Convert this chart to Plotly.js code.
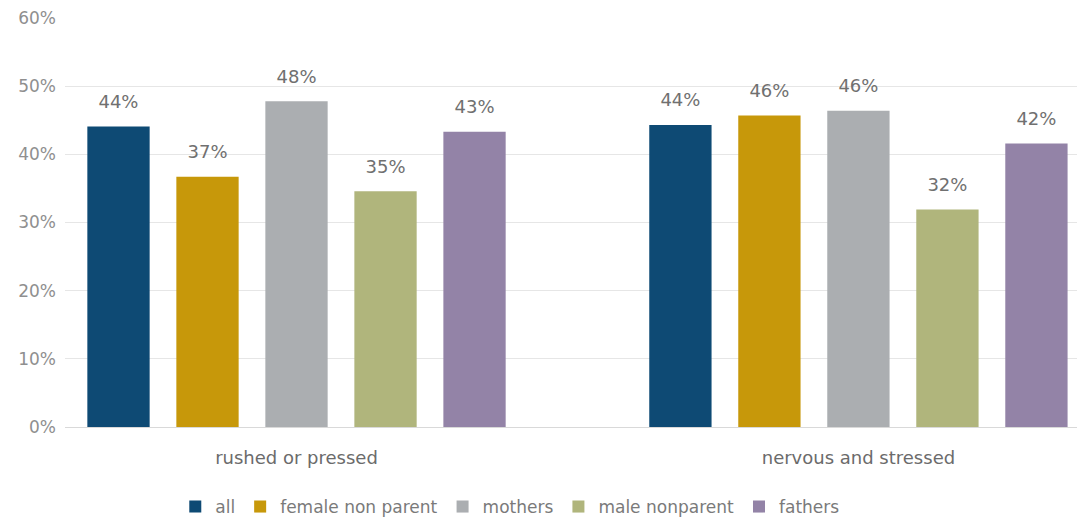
<!DOCTYPE html>
<html>
<head>
<meta charset="utf-8">
<script src="https://cdn.plot.ly/plotly-3.0.1.min.js"></script>
<style>html,body{margin:0;padding:0;background:#fff;}#chart{width:1084px;height:520px;}</style>
</head>
<body>
<div id="chart"></div>
<script>
var categories = ["rushed or pressed", "nervous and stressed"];
var seriesNames = ["all", "female non parent", "mothers", "male nonparent", "fathers"];
var allVals = [44.1, 44.3];
var femaleNonParentVals = [36.7, 45.7];
var mothersVals = [47.8, 46.4];
var maleNonparentVals = [34.6, 31.9];
var fathersVals = [43.3, 41.6];
var seriesColors = ["#0e4a74", "#c7980a", "#abaeb1", "#b0b57c", "#9383a7"];
var yTickVals = [0, 10, 20, 30, 40, 50, 60];
var yTickText = ["0%", "10%", "20%", "30%", "40%", "50%", "60%"];

var FONT = "DejaVu Sans, Verdana, sans-serif";
var seriesValues = [allVals, femaleNonParentVals, mothersVals, maleNonparentVals, fathersVals];
var traces = [];
seriesValues.forEach(function (vals, i) {
  traces.push({
    type: "bar",
    name: seriesNames[i],
    x: categories,
    y: vals,
    offsetgroup: "g" + i,
    marker: { color: seriesColors[i] },
    hoverinfo: "skip"
  });
});
seriesValues.forEach(function (vals, i) {
  traces.push({
    type: "scatter",
    mode: "markers+text",
    x: categories,
    y: vals,
    offsetgroup: "g" + i,
    orientation: "v",
    showlegend: false,
    marker: { size: 21, opacity: 0, color: seriesColors[i] },
    text: vals.map(function (v) { return Math.round(v) + "%"; }),
    textposition: "top center",
    textfont: { family: FONT, size: 18, color: "#707070" },
    cliponaxis: false,
    hoverinfo: "skip"
  });
});

var layout = {
  width: 1084,
  height: 520,
  margin: { l: 65, r: 7, t: 18, b: 93 },
  paper_bgcolor: "#ffffff",
  plot_bgcolor: "#ffffff",
  barmode: "group",
  bargap: 0.208,
  bargroupgap: 0.3,
  scattermode: "group",
  scattergap: 0.208,
  showlegend: true,
  legend: {
    orientation: "h",
    xref: "paper",
    x: 0.44, xanchor: "center",
    yref: "container",
    y: 0.025, yanchor: "middle",
    font: { family: FONT, size: 17, color: "#7a7a7a" },
    itemwidth: 30,
    traceorder: "normal"
  },
  xaxis: {
    type: "category",
    range: [-0.412, 1.389],
    showgrid: false,
    showline: false,
    zeroline: false,
    ticks: "",
    ticklabelstandoff: 18,
    tickfont: { family: FONT, size: 18, color: "#6b6b6b" }
  },
  yaxis: {
    range: [0, 60],
    tickvals: yTickVals,
    ticktext: yTickText,
    showgrid: true,
    gridcolor: "#e6e6e6",
    gridwidth: 1,
    zeroline: true,
    zerolinecolor: "#d9d9d9",
    zerolinewidth: 1,
    showline: false,
    ticks: "",
    ticklabelstandoff: 8,
    tickfont: { family: FONT, size: 17, color: "#8f8f8f" }
  },
  font: { family: FONT }
};

Plotly.newPlot("chart", traces, layout, { displayModeBar: false, staticPlot: true });
</script>
</body>
</html>
